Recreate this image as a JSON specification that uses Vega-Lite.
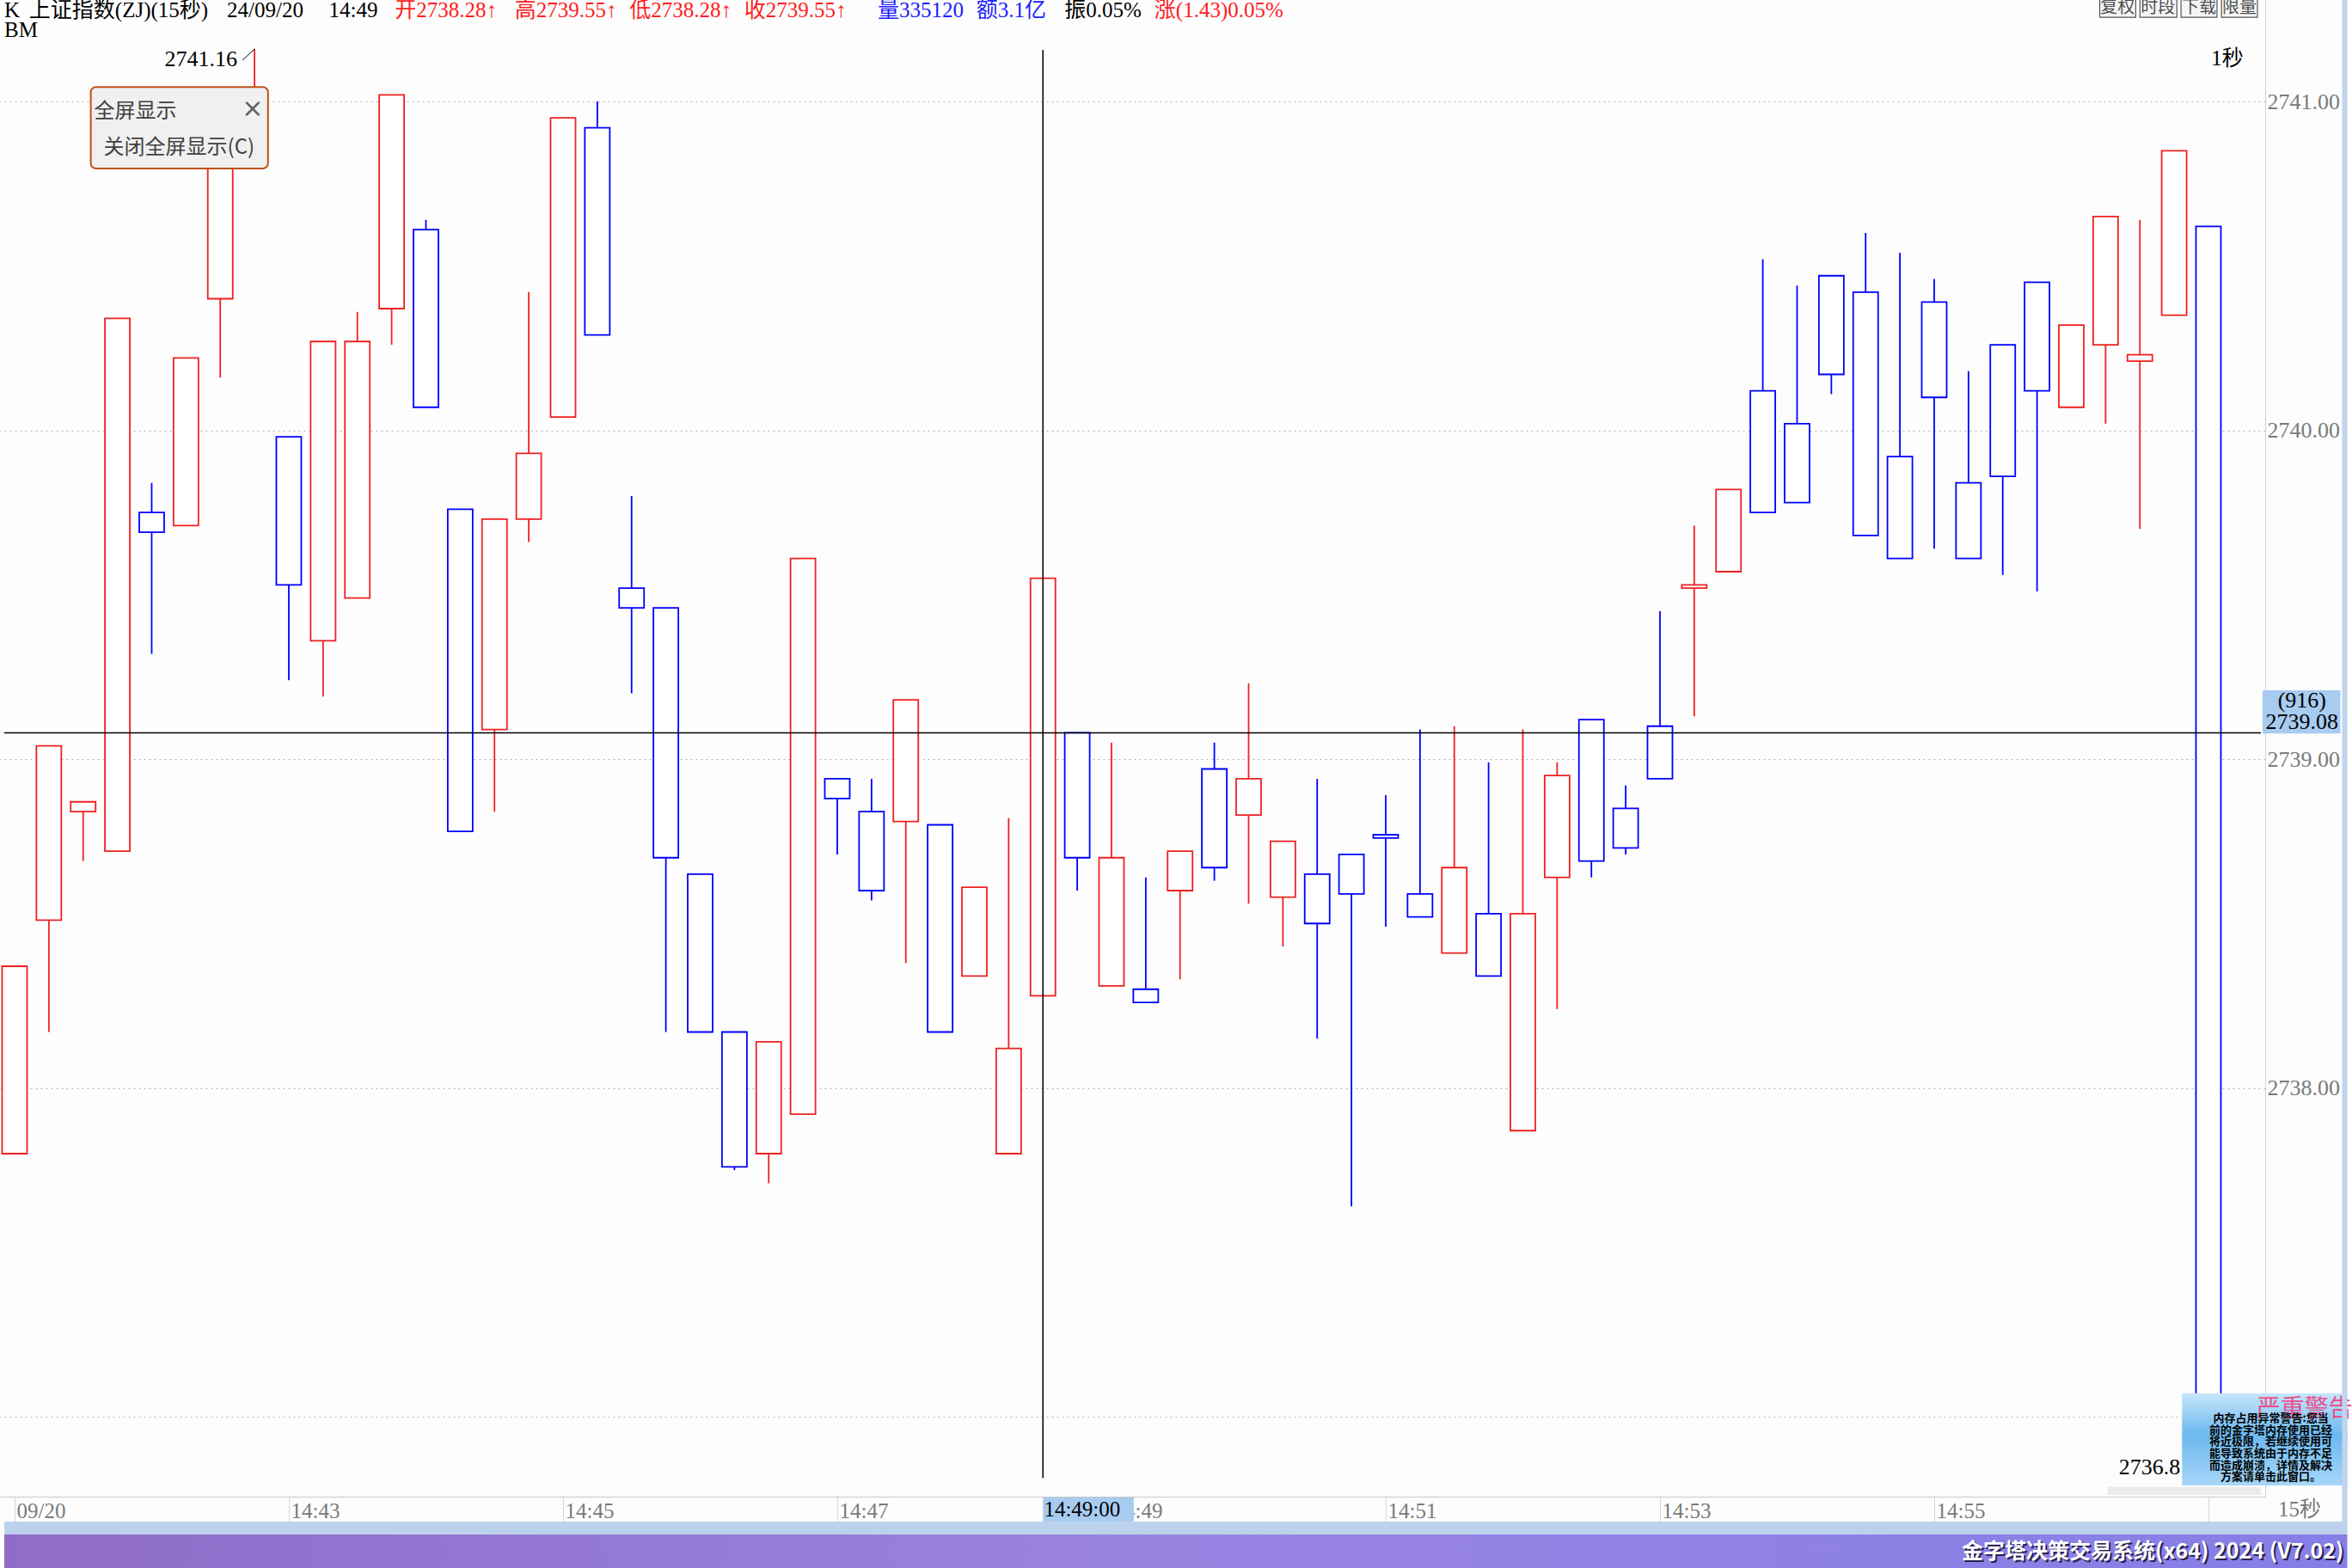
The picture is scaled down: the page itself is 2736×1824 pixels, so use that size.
{
  "$schema": "https://vega.github.io/schema/vega-lite/v6.json",
  "width": 2635,
  "height": 1741,
  "autosize": "none",
  "padding": {"left": 0, "top": 0, "right": 101, "bottom": 83},
  "background": "#fdfdfd",
  "config": {"view": {"stroke": null}},
  "datasets": {
    "bars": [
      {"i":0,"o":2737.80,"h":2738.37,"l":2737.80,"c":2738.37},
      {"i":1,"o":2738.51,"h":2739.04,"l":2738.17,"c":2739.04},
      {"i":2,"o":2738.84,"h":2738.87,"l":2738.69,"c":2738.87},
      {"i":3,"o":2738.72,"h":2740.34,"l":2738.72,"c":2740.34},
      {"i":4,"o":2739.75,"h":2739.84,"l":2739.32,"c":2739.69},
      {"i":5,"o":2739.71,"h":2740.22,"l":2739.71,"c":2740.22},
      {"i":6,"o":2740.40,"h":2740.85,"l":2740.16,"c":2740.85},
      {"i":7,"o":2740.82,"h":2741.16,"l":2740.80,"c":2741.02},
      {"i":8,"o":2739.98,"h":2739.98,"l":2739.24,"c":2739.53},
      {"i":9,"o":2739.36,"h":2740.27,"l":2739.19,"c":2740.27},
      {"i":10,"o":2739.49,"h":2740.36,"l":2739.49,"c":2740.27},
      {"i":11,"o":2740.37,"h":2741.02,"l":2740.26,"c":2741.02},
      {"i":12,"o":2740.61,"h":2740.64,"l":2740.07,"c":2740.07},
      {"i":13,"o":2739.76,"h":2739.76,"l":2738.78,"c":2738.78},
      {"i":14,"o":2739.09,"h":2739.73,"l":2738.84,"c":2739.73},
      {"i":15,"o":2739.73,"h":2740.42,"l":2739.66,"c":2739.93},
      {"i":16,"o":2740.04,"h":2740.95,"l":2740.04,"c":2740.95},
      {"i":17,"o":2740.92,"h":2741.00,"l":2740.29,"c":2740.29},
      {"i":18,"o":2739.52,"h":2739.80,"l":2739.20,"c":2739.46},
      {"i":19,"o":2739.46,"h":2739.46,"l":2738.17,"c":2738.70},
      {"i":20,"o":2738.65,"h":2738.65,"l":2738.17,"c":2738.17},
      {"i":21,"o":2738.17,"h":2738.17,"l":2737.75,"c":2737.76},
      {"i":22,"o":2737.80,"h":2738.14,"l":2737.71,"c":2738.14},
      {"i":23,"o":2737.92,"h":2739.61,"l":2737.92,"c":2739.61},
      {"i":24,"o":2738.94,"h":2738.94,"l":2738.71,"c":2738.88},
      {"i":25,"o":2738.84,"h":2738.94,"l":2738.57,"c":2738.60},
      {"i":26,"o":2738.81,"h":2739.18,"l":2738.38,"c":2739.18},
      {"i":27,"o":2738.80,"h":2738.80,"l":2738.17,"c":2738.17},
      {"i":28,"o":2738.34,"h":2738.61,"l":2738.34,"c":2738.61},
      {"i":29,"o":2737.80,"h":2738.82,"l":2737.80,"c":2738.12},
      {"i":30,"o":2738.28,"h":2739.55,"l":2738.28,"c":2739.55},
      {"i":31,"o":2739.08,"h":2739.08,"l":2738.60,"c":2738.70},
      {"i":32,"o":2738.31,"h":2739.05,"l":2738.31,"c":2738.70},
      {"i":33,"o":2738.30,"h":2738.64,"l":2738.26,"c":2738.26},
      {"i":34,"o":2738.60,"h":2738.72,"l":2738.33,"c":2738.72},
      {"i":35,"o":2738.97,"h":2739.05,"l":2738.63,"c":2738.67},
      {"i":36,"o":2738.83,"h":2739.23,"l":2738.56,"c":2738.94},
      {"i":37,"o":2738.58,"h":2738.75,"l":2738.43,"c":2738.75},
      {"i":38,"o":2738.65,"h":2738.94,"l":2738.15,"c":2738.50},
      {"i":39,"o":2738.71,"h":2738.71,"l":2737.64,"c":2738.59},
      {"i":40,"o":2738.77,"h":2738.89,"l":2738.49,"c":2738.76},
      {"i":41,"o":2738.59,"h":2739.09,"l":2738.52,"c":2738.52},
      {"i":42,"o":2738.41,"h":2739.10,"l":2738.41,"c":2738.67},
      {"i":43,"o":2738.53,"h":2738.99,"l":2738.34,"c":2738.34},
      {"i":44,"o":2737.87,"h":2739.09,"l":2737.87,"c":2738.53},
      {"i":45,"o":2738.64,"h":2738.99,"l":2738.24,"c":2738.95},
      {"i":46,"o":2739.12,"h":2739.12,"l":2738.64,"c":2738.69},
      {"i":47,"o":2738.85,"h":2738.92,"l":2738.71,"c":2738.73},
      {"i":48,"o":2739.10,"h":2739.45,"l":2738.94,"c":2738.94},
      {"i":49,"o":2739.52,"h":2739.71,"l":2739.13,"c":2739.53},
      {"i":50,"o":2739.57,"h":2739.82,"l":2739.57,"c":2739.82},
      {"i":51,"o":2740.12,"h":2740.52,"l":2739.75,"c":2739.75},
      {"i":52,"o":2740.02,"h":2740.44,"l":2739.78,"c":2739.78},
      {"i":53,"o":2740.47,"h":2740.47,"l":2740.11,"c":2740.17},
      {"i":54,"o":2740.42,"h":2740.60,"l":2739.68,"c":2739.68},
      {"i":55,"o":2739.92,"h":2740.54,"l":2739.61,"c":2739.61},
      {"i":56,"o":2740.39,"h":2740.46,"l":2739.64,"c":2740.10},
      {"i":57,"o":2739.84,"h":2740.18,"l":2739.61,"c":2739.61},
      {"i":58,"o":2740.26,"h":2740.26,"l":2739.56,"c":2739.86},
      {"i":59,"o":2740.45,"h":2740.45,"l":2739.51,"c":2740.12},
      {"i":60,"o":2740.07,"h":2740.32,"l":2740.07,"c":2740.32},
      {"i":61,"o":2740.26,"h":2740.65,"l":2740.02,"c":2740.65},
      {"i":62,"o":2740.21,"h":2740.64,"l":2739.70,"c":2740.23},
      {"i":63,"o":2740.35,"h":2740.85,"l":2740.35,"c":2740.85},
      {"i":64,"o":2740.62,"h":2740.62,"l":2736.80,"c":2736.88}
    ]
  },
  "layer": [
    {
      "data": {"name": "bars"},
      "mark": {"type": "rule", "strokeWidth": 1.8},
      "encoding": {
        "x": {"field": "i", "type": "quantitative",
              "scale": {"domain": [-0.3, 65.53], "nice": false, "zero": false},
              "axis": {"orient": "bottom", "title": null, "values": [0,8,16,24,32,40,48,56,64],
                       "labelExpr": "datum.value==0?'09/20':datum.value==8?'14:43':datum.value==16?'14:45':datum.value==24?'14:47':datum.value==32?'14:49':datum.value==40?'14:51':datum.value==48?'14:53':datum.value==56?'14:55':''",
                       "grid": false, "domainColor": "#c8c8c8", "tickColor": "#d8d8d8", "tickSize": 29,
                       "labelAlign": "left", "labelBaseline": "middle", "labelPadding": -13, "labelOffset": 2,
                       "labelFont": "Liberation Serif", "labelFontSize": 25, "labelColor": "#7a7a7a",
                       "labelOverlap": false, "labelBound": false, "labelFlush": false}},
        "y": {"field": "l", "type": "quantitative",
              "scale": {"domain": [2736.7569, 2741.3085], "nice": false, "zero": false},
              "axis": {"orient": "right", "title": null, "values": [2737,2738,2739,2740,2741], "format": ".2f",
                       "grid": true, "gridDash": [2,4], "gridColor": "#b0b0b0", "ticks": false,
                       "domainColor": "#cfcfcf", "labelPadding": 2, "labelFont": "Liberation Serif",
                       "labelFontSize": 26, "labelColor": "#7a7a7a", "labelBaseline": "middle",
                       "labelBound": false, "labelFlush": false}},
        "y2": {"field": "h"},
        "color": {"condition": {"test": "datum.c > datum.o", "value": "#f02020"}, "value": "#0000ff"}
      }
    },
    {
      "data": {"name": "bars"},
      "mark": {"type": "bar", "size": 29, "fill": "#ffffff", "strokeWidth": 1.8},
      "encoding": {
        "x": {"field": "i", "type": "quantitative"},
        "y": {"field": "o", "type": "quantitative"},
        "y2": {"field": "c"},
        "stroke": {"condition": {"test": "datum.c > datum.o", "value": "#f02020"}, "value": "#0000ff"}
      }
    },
    {"data": {"values": [{}]}, "mark": {"type": "rule", "color": "#000000", "strokeWidth": 1.5},
     "encoding": {"x": {"datum": 30}, "y": {"datum": 2741.157}, "y2": {"datum": 2736.814}}},
    {"data": {"values": [{}]}, "mark": {"type": "rule", "color": "#000000", "strokeWidth": 1.5},
     "encoding": {"y": {"datum": 2739.08}, "x": {"datum": -0.3}, "x2": {"datum": 65.53}}},
    {"data": {"values": [{}]}, "mark": {"type": "rule", "color": "#000000", "strokeWidth": 1},
     "encoding": {"x": {"datum": 6.645}, "y": {"datum": 2741.125}, "x2": {"datum": 6.995}, "y2": {"datum": 2741.159}}},
    {"data": {"values": [{}]}, "mark": {"type": "text", "text": "2741.16", "align": "right", "baseline": "middle", "font": "Liberation Serif", "fontSize": 26, "color": "#000000"},
     "encoding": {"x": {"datum": 6.495}, "y": {"datum": 2741.128}}},
    {"data": {"values": [{}]}, "mark": {"type": "text", "text": "2736.8", "align": "right", "baseline": "middle", "font": "Liberation Serif", "fontSize": 26, "color": "#000000"},
     "encoding": {"x": {"datum": 63.18}, "y": {"datum": 2736.846}}},
    {"data": {"values": [{}]}, "mark": {"type": "text", "text": "K", "align": "left", "baseline": "middle", "font": "Liberation Serif, Noto Sans CJK SC", "fontSize": 25, "color": "#000000"},
     "encoding": {"x": {"datum": -0.3}, "y": {"datum": 2741.277}}},
    {"data": {"values": [{}]}, "mark": {"type": "text", "text": "上证指数(ZJ)(15秒)", "align": "left", "baseline": "middle", "font": "Liberation Serif, Noto Sans CJK SC", "fontSize": 25, "color": "#000000"},
     "encoding": {"x": {"datum": 0.424}, "y": {"datum": 2741.277}}},
    {"data": {"values": [{}]}, "mark": {"type": "text", "text": "24/09/20", "align": "left", "baseline": "middle", "font": "Liberation Serif, Noto Sans CJK SC", "fontSize": 25, "color": "#000000"},
     "encoding": {"x": {"datum": 6.195}, "y": {"datum": 2741.277}}},
    {"data": {"values": [{}]}, "mark": {"type": "text", "text": "14:49", "align": "left", "baseline": "middle", "font": "Liberation Serif, Noto Sans CJK SC", "fontSize": 25, "color": "#000000"},
     "encoding": {"x": {"datum": 9.168}, "y": {"datum": 2741.277}}},
    {"data": {"values": [{}]}, "mark": {"type": "text", "text": "开2738.28↑", "align": "left", "baseline": "middle", "font": "Liberation Serif, Noto Sans CJK SC", "fontSize": 25, "color": "#ff2020"},
     "encoding": {"x": {"datum": 11.091}, "y": {"datum": 2741.277}}},
    {"data": {"values": [{}]}, "mark": {"type": "text", "text": "高2739.55↑", "align": "left", "baseline": "middle", "font": "Liberation Serif, Noto Sans CJK SC", "fontSize": 25, "color": "#ff2020"},
     "encoding": {"x": {"datum": 14.589}, "y": {"datum": 2741.277}}},
    {"data": {"values": [{}]}, "mark": {"type": "text", "text": "低2738.28↑", "align": "left", "baseline": "middle", "font": "Liberation Serif, Noto Sans CJK SC", "fontSize": 25, "color": "#ff2020"},
     "encoding": {"x": {"datum": 17.937}, "y": {"datum": 2741.277}}},
    {"data": {"values": [{}]}, "mark": {"type": "text", "text": "收2739.55↑", "align": "left", "baseline": "middle", "font": "Liberation Serif, Noto Sans CJK SC", "fontSize": 25, "color": "#ff2020"},
     "encoding": {"x": {"datum": 21.284}, "y": {"datum": 2741.277}}},
    {"data": {"values": [{}]}, "mark": {"type": "text", "text": "量335120", "align": "left", "baseline": "middle", "font": "Liberation Serif, Noto Sans CJK SC", "fontSize": 25, "color": "#2020ff"},
     "encoding": {"x": {"datum": 25.181}, "y": {"datum": 2741.277}}},
    {"data": {"values": [{}]}, "mark": {"type": "text", "text": "额3.1亿", "align": "left", "baseline": "middle", "font": "Liberation Serif, Noto Sans CJK SC", "fontSize": 25, "color": "#2020ff"},
     "encoding": {"x": {"datum": 28.054}, "y": {"datum": 2741.277}}},
    {"data": {"values": [{}]}, "mark": {"type": "text", "text": "振0.05%", "align": "left", "baseline": "middle", "font": "Liberation Serif, Noto Sans CJK SC", "fontSize": 25, "color": "#000000"},
     "encoding": {"x": {"datum": 30.627}, "y": {"datum": 2741.277}}},
    {"data": {"values": [{}]}, "mark": {"type": "text", "text": "涨(1.43)0.05%", "align": "left", "baseline": "middle", "font": "Liberation Serif, Noto Sans CJK SC", "fontSize": 25, "color": "#ff2020"},
     "encoding": {"x": {"datum": 33.25}, "y": {"datum": 2741.277}}},
    {"data": {"values": [{}]}, "mark": {"type": "text", "text": "BM", "align": "left", "baseline": "middle", "font": "Liberation Serif", "fontSize": 25, "color": "#000000"},
     "encoding": {"x": {"datum": -0.3}, "y": {"datum": 2741.217}}},
    {"data": {"values": [{}]}, "mark": {"type": "text", "text": "1秒", "align": "left", "baseline": "middle", "font": "Liberation Serif, Noto Sans CJK SC", "fontSize": 25, "color": "#000000"},
     "encoding": {"x": {"datum": 64.08}, "y": {"datum": 2741.131}}},
    {"data": {"values": [{}]}, "mark": {"type": "rect", "fill": "#f6f6f6", "stroke": "#555555", "strokeWidth": 1.2},
     "encoding": {"x": {"datum": 60.83}, "x2": {"datum": 61.88}, "y": {"datum": 2741.33}, "y2": {"datum": 2741.256}}},
    {"data": {"values": [{}]}, "mark": {"type": "rect", "fill": "#f6f6f6", "stroke": "#555555", "strokeWidth": 1.2},
     "encoding": {"x": {"datum": 62.0}, "x2": {"datum": 63.08}, "y": {"datum": 2741.33}, "y2": {"datum": 2741.256}}},
    {"data": {"values": [{}]}, "mark": {"type": "rect", "fill": "#f6f6f6", "stroke": "#555555", "strokeWidth": 1.2},
     "encoding": {"x": {"datum": 63.2}, "x2": {"datum": 64.25}, "y": {"datum": 2741.33}, "y2": {"datum": 2741.256}}},
    {"data": {"values": [{}]}, "mark": {"type": "rect", "fill": "#f6f6f6", "stroke": "#555555", "strokeWidth": 1.2},
     "encoding": {"x": {"datum": 64.38}, "x2": {"datum": 65.43}, "y": {"datum": 2741.33}, "y2": {"datum": 2741.256}}},
    {"data": {"values": [{}]}, "mark": {"type": "text", "text": "复权", "align": "center", "baseline": "middle", "font": "Noto Sans CJK SC", "fontSize": 20, "color": "#505050"},
     "encoding": {"x": {"datum": 61.35}, "y": {"datum": 2741.285}}},
    {"data": {"values": [{}]}, "mark": {"type": "text", "text": "时段", "align": "center", "baseline": "middle", "font": "Noto Sans CJK SC", "fontSize": 20, "color": "#505050"},
     "encoding": {"x": {"datum": 62.53}, "y": {"datum": 2741.285}}},
    {"data": {"values": [{}]}, "mark": {"type": "text", "text": "下载", "align": "center", "baseline": "middle", "font": "Noto Sans CJK SC", "fontSize": 20, "color": "#505050"},
     "encoding": {"x": {"datum": 63.73}, "y": {"datum": 2741.285}}},
    {"data": {"values": [{}]}, "mark": {"type": "text", "text": "限量", "align": "center", "baseline": "middle", "font": "Noto Sans CJK SC", "fontSize": 20, "color": "#505050"},
     "encoding": {"x": {"datum": 64.90}, "y": {"datum": 2741.285}}},
    {"data": {"values": [{}]}, "mark": {"type": "rect", "fill": "#f0f0f0", "stroke": "#c0501a", "strokeWidth": 2, "cornerRadius": 6},
     "encoding": {"x": {"datum": 2.223}, "x2": {"datum": 7.394}, "y": {"datum": 2741.044}, "y2": {"datum": 2740.796}}},
    {"data": {"values": [{}]}, "mark": {"type": "text", "text": "全屏显示", "align": "left", "baseline": "middle", "font": "Noto Sans CJK SC", "fontSize": 24, "color": "#404040"},
     "encoding": {"x": {"datum": 2.323}, "y": {"datum": 2740.969}}},
    {"data": {"values": [{}]}, "mark": {"type": "text", "text": "×", "align": "center", "baseline": "middle", "font": "DejaVu Sans", "fontSize": 30, "color": "#606060"},
     "encoding": {"x": {"datum": 6.945}, "y": {"datum": 2740.976}}},
    {"data": {"values": [{}]}, "mark": {"type": "text", "text": "关闭全屏显示(C)", "align": "left", "baseline": "middle", "font": "Noto Sans CJK SC", "fontSize": 24, "color": "#404040"},
     "encoding": {"x": {"datum": 2.598}, "y": {"datum": 2740.859}}},
    {"data": {"values": [{}]}, "mark": {"type": "rect", "fill": {"gradient": "linear", "x1": 0, "y1": 0, "x2": 0, "y2": 1, "stops": [{"offset": 0, "color": "#c6e6fb"}, {"offset": 0.45, "color": "#6cb8ef"}, {"offset": 1, "color": "#a6d6f8"}]}},
     "encoding": {"x": {"datum": 63.23}, "x2": {"datum": 68.05}, "y": {"datum": 2737.071}, "y2": {"datum": 2736.791}}},
    {"data": {"values": [{}]}, "mark": {"type": "text", "text": "严重警告", "align": "left", "baseline": "middle", "font": "Noto Sans CJK SC", "fontSize": 28, "color": "#e8508c"},
     "encoding": {"x": {"datum": 65.40}, "y": {"datum": 2737.021}}},
    {"data": {"values": [{}]}, "mark": {"type": "text", "text": ["内存占用异常警告:您当", "前的金字塔内存使用已经", "将近极限，若继续使用可", "能导致系统由于内存不足", "而造成崩溃，详情及解决", "方案请单击此窗口。"], "align": "center", "baseline": "top", "lineHeight": 13.6, "font": "Noto Sans CJK SC", "fontSize": 13, "fontWeight": "bold", "color": "#000000"},
     "encoding": {"x": {"datum": 65.82}, "y": {"datum": 2737.010}}},
    {"data": {"values": [{}]}, "mark": {"type": "rect", "fill": "#a8cbf0"},
     "encoding": {"x": {"datum": 65.58}, "x2": {"datum": 67.85}, "y": {"datum": 2739.209}, "y2": {"datum": 2739.078}}},
    {"data": {"values": [{}]}, "mark": {"type": "text", "text": "(916)", "align": "center", "baseline": "middle", "font": "Liberation Serif", "fontSize": 26, "color": "#000000"},
     "encoding": {"x": {"datum": 66.73}, "y": {"datum": 2739.178}}},
    {"data": {"values": [{}]}, "mark": {"type": "text", "text": "2739.08", "align": "center", "baseline": "middle", "font": "Liberation Serif", "fontSize": 26, "color": "#000000"},
     "encoding": {"x": {"datum": 66.73}, "y": {"datum": 2739.112}}},
    {"data": {"values": [{}]}, "mark": {"type": "rect", "fill": "#a8cbf0"},
     "encoding": {"x": {"datum": 30.0}, "x2": {"datum": 32.65}, "y": {"datum": 2736.754}, "y2": {"datum": 2736.681}}},
    {"data": {"values": [{}]}, "mark": {"type": "text", "text": "14:49:00", "align": "left", "baseline": "middle", "font": "Liberation Serif", "fontSize": 25, "color": "#000000"},
     "encoding": {"x": {"datum": 30.03}, "y": {"datum": 2736.717}}},
    {"data": {"values": [{}]}, "mark": {"type": "text", "text": "15秒", "align": "left", "baseline": "middle", "font": "Liberation Serif, Noto Sans CJK SC", "fontSize": 25, "color": "#7a7a7a"},
     "encoding": {"x": {"datum": 66.03}, "y": {"datum": 2736.717}}},
    {"data": {"values": [{}]}, "mark": {"type": "rect", "fill": "#ebebeb"},
     "encoding": {"x": {"datum": 61.05}, "x2": {"datum": 65.53}, "y": {"datum": 2736.786}, "y2": {"datum": 2736.762}}},
    {"data": {"values": [{}]}, "mark": {"type": "rect", "fill": "#bcd2ec"},
     "encoding": {"x": {"datum": -0.3}, "x2": {"datum": 68.05}, "y": {"datum": 2736.681}, "y2": {"datum": 2736.642}}},
    {"data": {"values": [{}]}, "mark": {"type": "rect", "fill": "#c0d4ec"},
     "encoding": {"x": {"datum": 67.90}, "x2": {"datum": 68.05}, "y": {"datum": 2741.3085}, "y2": {"datum": 2736.681}}},
    {"data": {"values": [{}]}, "mark": {"type": "rect", "fill": {"gradient": "linear", "x1": 0, "y1": 0, "x2": 1, "y2": 0, "stops": [{"offset": 0, "color": "#8f6cc8"}, {"offset": 0.5, "color": "#9a84e2"}, {"offset": 1, "color": "#857ee6"}]}},
     "encoding": {"x": {"datum": -0.3}, "x2": {"datum": 68.05}, "y": {"datum": 2736.642}, "y2": {"datum": 2736.54}}},
    {"data": {"values": [{}]}, "mark": {"type": "text", "text": "金字塔决策交易系统(x64) 2024 (V7.02)", "align": "right", "baseline": "middle", "font": "Noto Sans CJK SC", "fontSize": 25, "fontWeight": "bold", "color": "#2a2050", "dx": 2, "dy": 2},
     "encoding": {"x": {"datum": 67.95}, "y": {"datum": 2736.589}}},
    {"data": {"values": [{}]}, "mark": {"type": "text", "text": "金字塔决策交易系统(x64) 2024 (V7.02)", "align": "right", "baseline": "middle", "font": "Noto Sans CJK SC", "fontSize": 25, "fontWeight": "bold", "color": "#ffffff"},
     "encoding": {"x": {"datum": 67.95}, "y": {"datum": 2736.589}}}
  ]
}
